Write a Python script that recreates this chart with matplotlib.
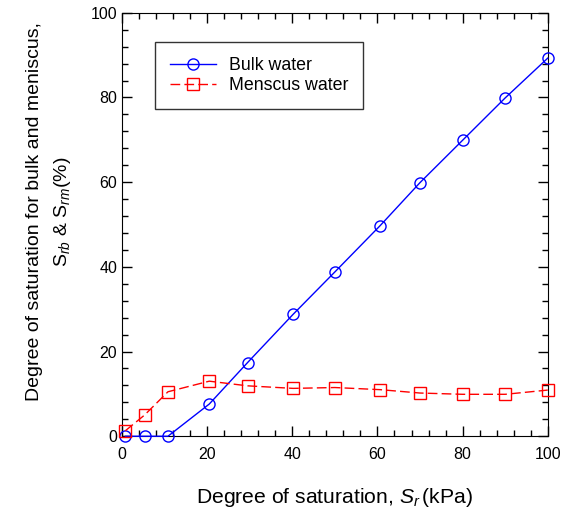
import matplotlib
matplotlib.use("Agg")
import matplotlib.pyplot as plt
from matplotlib.ticker import MultipleLocator

plt.rcParams['font.family'] = ['Liberation Sans', 'DejaVu Sans']
plt.rcParams['mathtext.fontset'] = 'custom'
plt.rcParams['mathtext.rm'] = 'Liberation Sans'
plt.rcParams['mathtext.it'] = 'Liberation Sans:italic'

# degree of saturation (x) and split into bulk / meniscus water
sr_bulk = [0.8, 5.3, 10.8, 20.5, 29.5, 40.2, 50.0, 60.6, 70.0, 80.0, 90.0, 100.0]
s_bulk = [0.0, 0.0, 0.0, 7.6, 17.4, 28.8, 38.8, 49.7, 59.9, 69.9, 79.9, 89.3]
sr_men = [0.8, 5.3, 10.8, 20.5, 29.5, 40.2, 50.0, 60.6, 70.0, 80.0, 90.0, 100.0]
s_men = [1.3, 5.0, 10.5, 13.0, 11.9, 11.3, 11.5, 11.0, 10.2, 9.9, 9.9, 10.9]

fig = plt.figure(figsize=(5.7, 5.12), dpi=100)
ax = fig.add_axes([0.214, 0.148, 0.747, 0.827])

ax.plot(sr_bulk, s_bulk, '-o', color='blue', lw=1.0, ms=8, clip_on=False,
        mfc='none', mec='blue', mew=1.0, label='Bulk water', zorder=3)
ax.plot(sr_men, s_men, '--s', color='red', lw=1.0, ms=8, clip_on=False,
        mfc='none', mec='red', mew=1.0, dashes=(7, 3), label='Menscus water', zorder=3)

ax.set_xlim(0, 100)
ax.set_ylim(0, 100)
ax.xaxis.set_major_locator(MultipleLocator(20))
ax.xaxis.set_minor_locator(MultipleLocator(4))
ax.yaxis.set_major_locator(MultipleLocator(20))
ax.yaxis.set_minor_locator(MultipleLocator(4))
ax.tick_params(which='both', direction='in', top=True, right=True, labelsize=11.5)
ax.tick_params(which='major', length=7, width=1)
ax.tick_params(which='minor', length=4, width=1)
ax.tick_params(axis='x', pad=8)

ax.set_xlabel(r'Degree of saturation, $S_r\,$(kPa)', fontsize=15.2, labelpad=17)
ax.set_ylabel('Degree of saturation for bulk and meniscus,\n'
              r'$\mathrm{S}_{rb}$ & $\mathrm{S}_{rm}$(%)', fontsize=14,
              linespacing=1.6)
ax.yaxis.set_label_coords(-0.116, 0.53)

leg = ax.legend(loc='upper left', bbox_to_anchor=(0.077, 0.931), borderaxespad=0,
                fontsize=12.8, frameon=True, fancybox=False, edgecolor='black',
                handlelength=2.6, handletextpad=0.7, borderpad=0.85, labelspacing=0.15)
leg.get_frame().set_linewidth(1.0)

fig.savefig('out.png', dpi=100)
